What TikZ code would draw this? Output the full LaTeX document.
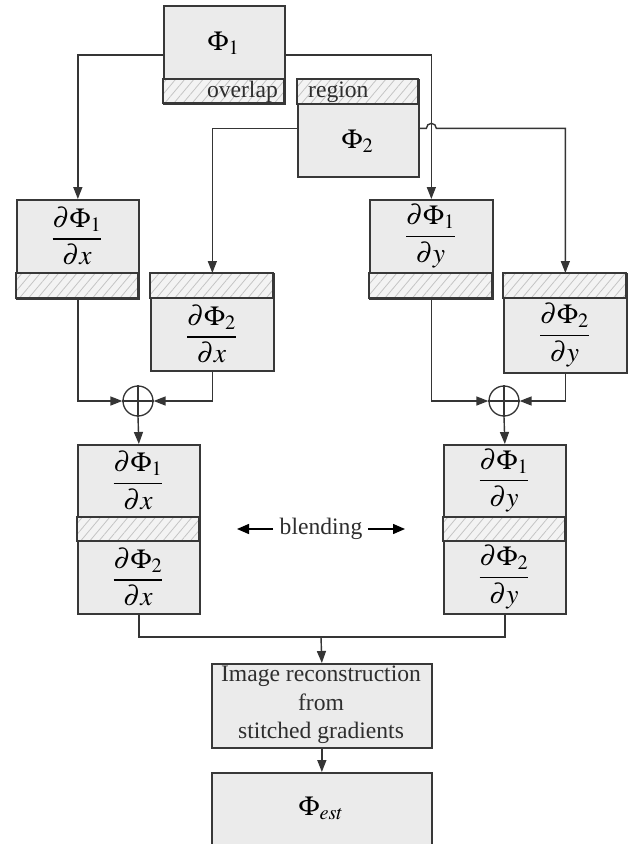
\documentclass[tikz,border=0pt]{standalone}
\usepackage{mathptmx}
\usepackage{fontspec}
\setmainfont{Liberation Serif}
\usetikzlibrary{arrows.meta,patterns.meta,calc}
\definecolor{boxgray}{HTML}{EBEBEB}
\definecolor{hatchbg}{HTML}{F3F3F3}
\definecolor{hatchln}{HTML}{C4C4C4}
\definecolor{framec}{HTML}{383838}
\definecolor{lineg}{HTML}{353535}
\definecolor{txtc}{HTML}{2E2E2E}
\tikzset{
  blockbox/.style={draw=framec, line width=1.7pt, fill=boxgray, rectangle, inner sep=0pt, anchor=north west},
  conn/.style={draw=lineg, line width=1.4pt},
  arr/.style={conn, -{Triangle[length=12pt,width=9pt]}},
  barr/.style={draw=black, line width=1.4pt, -{Triangle[length=12pt,width=10pt]}},
  mtxt/.style={font=\fontsize{27.5}{32}\selectfont, text=black, inner sep=0pt},
  ptxt/.style={font=\fontsize{23.6}{28.5}\selectfont, text=txtc, inner sep=0pt},
  sumnode/.style={circle, draw=lineg, line width=1.3pt, minimum size=30pt, inner sep=0pt, fill=white},
}
\newcommand\myhatch[4]{%
  \fill[hatchbg] (#1,#2) rectangle (#3,#4);
  \fill[pattern={Lines[angle=50,distance=7pt,line width=0.8pt]}, pattern color=hatchln] (#1,#2) rectangle (#3,#4);
  \draw[framec, line width=1.7pt] (#1,#2) rectangle (#3,#4);
}
\begin{document}
\begin{tikzpicture}[x=1pt,y=-1pt]
\useasboundingbox (0,0) rectangle (641,844);
\fill[white] (0,0) rectangle (641,844);
\clip (0,0) rectangle (641,844);

% top boxes
\node[blockbox, minimum width=121pt, minimum height=98pt] (p1) at (163,5) {};
\myhatch{163}{79}{284}{103}
\node[blockbox, minimum width=121pt, minimum height=97pt] (p2) at (297,79) {};
\myhatch{297}{79}{418}{104}
\node[mtxt] (p1t) at (223.5,43) {$\Phi_1$};
\node[mtxt] (p2t) at (357.5,141) {$\Phi_2$};
\node[ptxt, anchor=base east] (ovl) at (278,97) {overlap};
\node[ptxt, anchor=base west] (reg) at (308,97) {region};

% derivative boxes
\node[blockbox, minimum width=122pt, minimum height=99pt] (dx1) at (16,199) {};
\myhatch{16}{273}{138}{298}
\node[blockbox, minimum width=123pt, minimum height=97pt] (dx2) at (150,273) {};
\myhatch{150}{273}{273}{298}
\node[blockbox, minimum width=123pt, minimum height=99pt] (dy1) at (369,199) {};
\myhatch{369}{273}{492}{298}
\node[blockbox, minimum width=123pt, minimum height=99pt] (dy2) at (503,273) {};
\myhatch{503}{273}{626}{298}
\node[mtxt] (dx1t) at (77,236) {$\displaystyle\frac{\partial\Phi_1}{\partial x}$};
\node[mtxt] (dx2t) at (211.5,334) {$\displaystyle\frac{\partial\Phi_2}{\partial x}$};
\node[mtxt] (dy1t) at (430.5,236) {$\displaystyle\frac{\partial\Phi_1}{\partial y}$};
\node[mtxt] (dy2t) at (564.5,335) {$\displaystyle\frac{\partial\Phi_2}{\partial y}$};

% blended boxes
\node[blockbox, minimum width=122pt, minimum height=169pt] (bl) at (77,444) {};
\myhatch{77}{517}{199}{541}
\node[blockbox, minimum width=122pt, minimum height=169pt] (br) at (443,444) {};
\myhatch{443}{517}{565}{541}
\node[mtxt] (bl1t) at (138,480.5) {$\displaystyle\frac{\partial\Phi_1}{\partial x}$};
\node[mtxt] (bl2t) at (138,577) {$\displaystyle\frac{\partial\Phi_2}{\partial x}$};
\node[mtxt] (br1t) at (504,480.5) {$\displaystyle\frac{\partial\Phi_1}{\partial y}$};
\node[mtxt] (br2t) at (504,577) {$\displaystyle\frac{\partial\Phi_2}{\partial y}$};

% blending label
\node[ptxt] (bt) at (321,529) {blending};
\coordinate (bla) at (273,529);
\coordinate (blb) at (237,529);
\coordinate (bra) at (368,529);
\coordinate (brb) at (405,529);
\draw[barr] (bla) -- (blb);
\draw[barr] (bra) -- (brb);

% bottom boxes
\node[blockbox, minimum width=220pt, minimum height=84pt] (rec) at (211,663) {};
\node[ptxt, align=center] (rect) at (321,705) {Image reconstruction\\from\\stitched gradients};
\node[blockbox, minimum width=220pt, minimum height=92pt] (est) at (211,772) {};
\node[mtxt] (estt) at (321,808) {$\Phi_{est}$};

% sums
\node[sumnode] (s1) at (138,401) {};
\node[sumnode] (s2) at (504,401) {};
\draw[conn] (s1.north) -- (s1.south) (s1.west) -- (s1.east);
\draw[conn] (s2.north) -- (s2.south) (s2.west) -- (s2.east);

% connectors from top
\draw[arr] (p1.west) -| (dx1.north);
\draw[arr] (p1.east) -| (dy1.north);
\draw[arr] (p2.west) -| (dx2.north);
\coordinate (jA) at ($(dy1.north |- p2.east)+(-5,0)$);
\draw[arr] (p2.east) -- (jA) arc[start angle=180,end angle=360,radius=5] -- (dy2.north |- p2.east) -- (dy2.north);

% into sums
\draw[arr] (dx1.south) |- (s1.west);
\draw[arr] (dx2.south) |- (s1.east);
\draw[arr] (dy1.south) |- (s2.west);
\draw[arr] (dy2.south) |- (s2.east);
\draw[arr] (s1.south) -- (bl.north);
\draw[arr] (s2.south) -- (br.north);

% to reconstruction
\coordinate (jn) at (321,637);
\draw[conn] (bl.south) |- (jn) -| (br.south);
\draw[arr] (jn) -- (rec.north);
\draw[arr] (rec.south) -- (est.north);
\end{tikzpicture}
\end{document}
